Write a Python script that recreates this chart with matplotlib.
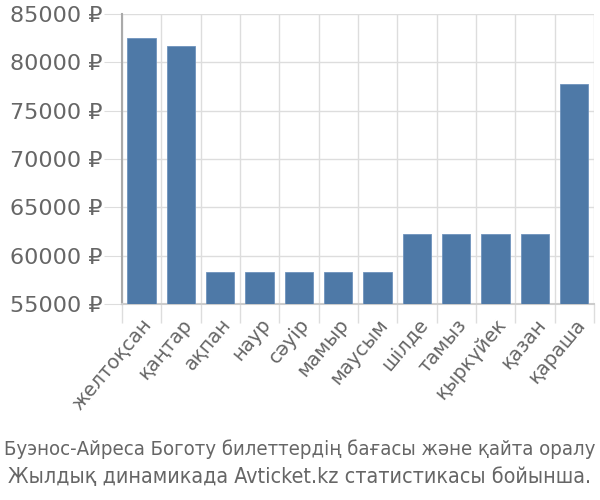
import matplotlib
matplotlib.use("Agg")
import matplotlib.pyplot as plt
import numpy as np

# Data
months = ["желтоқсан", "қаңтар", "ақпан", "наур", "сәуір", "мамыр",
          "маусым", "шілде", "тамыз", "қыркүйек", "қазан", "қараша"]
prices = [82500, 81700, 58300, 58300, 58300, 58300,
          58300, 62250, 62250, 62250, 62250, 77750]
yticks = [55000, 60000, 65000, 70000, 75000, 80000, 85000]
caption = ["Буэнос-Айреса Боготу билеттердің бағасы және қайта оралу",
           "Жылдық динамикада Avticket.kz статистикасы бойынша."]

plt.rcParams["font.family"] = ["DejaVu Sans"]
text_col = "#666666"
grid_col = "#dddddd"

fig = plt.figure(figsize=(6, 5), dpi=100)
ax = fig.add_axes([0.203, 0.392, 0.787, 0.58])

x = np.arange(len(months))
ax.bar(x, prices, width=0.72, color="#4e79a7", edgecolor="#6f93bd",
       linewidth=0.6, zorder=3)

ax.set_xlim(-0.5, len(months) - 0.5)
ax.set_ylim(55000, 85000)
ax.set_yticks(yticks)
ax.set_yticklabels([f"{v} ₽" for v in yticks])
ax.set_xticks(x)
ax.set_xticklabels(months, rotation=50, ha="right", rotation_mode="anchor")

# grid lines between categories
ax.set_xticks(np.arange(-0.5, len(months)), minor=True)
ax.grid(True, which="minor", axis="x", color=grid_col, linewidth=1, zorder=0)
ax.grid(True, which="major", axis="y", color=grid_col, linewidth=1, zorder=0)

ax.tick_params(axis="x", which="major", length=0, labelsize=14,
               labelcolor=text_col, pad=8)
ax.tick_params(axis="x", which="minor", length=14, color=grid_col, width=1)
ax.tick_params(axis="y", length=13, color=grid_col, labelsize=16,
               labelcolor=text_col, pad=1)

for side in ["top", "right"]:
    ax.spines[side].set_visible(False)
ax.spines["left"].set_color("#aaaaaa")
ax.spines["left"].set_linewidth(1.5)
ax.spines["bottom"].set_color("#cccccc")
ax.spines["bottom"].set_linewidth(1.5)

# two caption lines, both spanning nearly the full width
for i, (line, size) in enumerate(zip(caption, [14.6, 15.4])):
    fig.text(0.5, 1 - (455 + 28 * i) / 500, line, ha="center", va="baseline",
             fontsize=size, fontstretch="condensed", color=text_col)

fig.savefig("out.png", dpi=100)
